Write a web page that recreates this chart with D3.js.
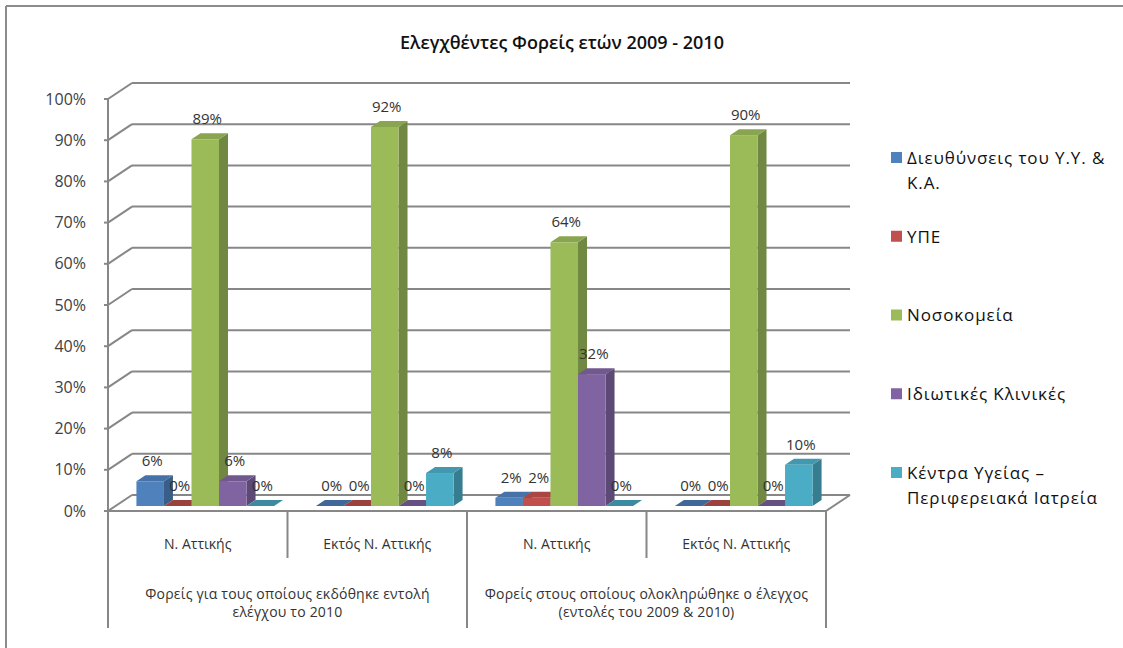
<!DOCTYPE html>
<html><head><meta charset="utf-8">
<script src="https://cdn.jsdelivr.net/npm/d3@7"></script>
<style>
body{margin:0;background:#fff}
svg{display:block}
text{font-family:"Open Sans","Noto Sans",sans-serif}
</style>
</head><body>
<svg id="c" width="1123" height="648"></svg>
<script>
// ---- data ----
const categories = ["Ν. Αττικής", "Εκτός Ν. Αττικής", "Ν. Αττικής", "Εκτός Ν. Αττικής"];
const groupLabels = [
  ["Φορείς για τους οποίους εκδόθηκε εντολή", "ελέγχου το 2010"],
  ["Φορείς στους οποίους ολοκληρώθηκε ο έλεγχος", "(εντολές του 2009 & 2010)"]
];
const seriesNames = [
  ["Διευθύνσεις του Υ.Υ. &", "Κ.Α."],
  ["ΥΠΕ"],
  ["Νοσοκομεία"],
  ["Ιδιωτικές Κλινικές"],
  ["Κέντρα Υγείας –", "Περιφερειακά Ιατρεία"]
];
const dieuthynseis = [6, 0, 2, 0];
const ype = [0, 0, 2, 0];
const nosokomeia = [89, 92, 64, 90];
const idiotikes = [6, 0, 32, 0];
const kentra = [0, 8, 0, 10];
const yTicks = [0, 10, 20, 30, 40, 50, 60, 70, 80, 90, 100];
const titleText = "Ελεγχθέντες Φορείς ετών 2009 - 2010";

const seriesValues = [dieuthynseis, ype, nosokomeia, idiotikes, kentra];
const colors = ["#4F81BD", "#C0504D", "#9BBB59", "#8064A2", "#4BACC6"];

// ---- layout ----
const svg = d3.select("#c");
const gridColor = "#878787";
const left = 108, right = 826, floorY = 511, topY = 99;
const depth = {dx: 24, dy: -16};
const barShift = {dx: 7.5, dy: -5};
const barDepth = {dx: 9, dy: -6};

// outer border (top & left)
svg.append("line").attr("x1", 6).attr("y1", 6).attr("x2", 1123).attr("y2", 6)
  .attr("stroke", "#8c8c8c").attr("stroke-width", 2);
svg.append("line").attr("x1", 6).attr("y1", 6).attr("x2", 6).attr("y2", 648)
  .attr("stroke", "#8c8c8c").attr("stroke-width", 2);

// title
svg.append("text").attr("x", 562).attr("y", 49).attr("text-anchor", "middle")
  .attr("font-size", 18).attr("font-weight", 600).attr("fill", "#111").text(titleText);

const y = d3.scaleLinear().domain([0, 100]).range([floorY, topY]);
const x0 = d3.scaleBand().domain(d3.range(categories.length)).range([left, right]);
const x1 = d3.scaleBand().domain(d3.range(seriesValues.length))
  .range([0, x0.bandwidth()]).paddingInner(0).paddingOuter(0.76);

// gridlines (back wall + side diagonal)
const grid = svg.append("g").attr("stroke", gridColor).attr("stroke-width", 2).attr("fill", "none");
yTicks.forEach(t => {
  grid.append("line").attr("x1", left + depth.dx).attr("y1", y(t) + depth.dy)
    .attr("x2", right + depth.dx).attr("y2", y(t) + depth.dy);
  grid.append("line").attr("x1", left).attr("y1", y(t))
    .attr("x2", left + depth.dx).attr("y2", y(t) + depth.dy);
  grid.append("line").attr("x1", left - 4).attr("y1", y(t)).attr("x2", left).attr("y2", y(t));
});
// floor front & right edge
grid.append("line").attr("x1", left).attr("y1", floorY).attr("x2", right).attr("y2", floorY);
grid.append("line").attr("x1", right).attr("y1", floorY).attr("x2", right + depth.dx).attr("y2", floorY + depth.dy);
// value axis line
grid.append("line").attr("x1", left).attr("y1", y(100)).attr("x2", left).attr("y2", floorY);

// category separators
const bounds = d3.range(categories.length + 1).map(i => i < categories.length ? x0(i) : right);
bounds.forEach((bx, i) => {
  grid.append("line").attr("x1", bx).attr("y1", floorY).attr("x2", bx)
    .attr("y2", i % 2 === 0 ? 628 : 558);
});

// y tick labels
svg.append("g").selectAll("text").data(yTicks).join("text")
  .attr("x", 86).attr("y", d => y(d)).attr("dy", "0.35em").attr("text-anchor", "end")
  .attr("font-size", 16).attr("fill", "#404040").text(d => d + "%");

// category labels
svg.append("g").selectAll("text").data(categories).join("text")
  .attr("x", (d, i) => x0(i) + x0.bandwidth() / 2).attr("y", 549)
  .attr("text-anchor", "middle").attr("font-size", 14).attr("fill", "#333").text(d => d);

// group labels
groupLabels.forEach((lines, g) => {
  const cx = bounds[g * 2 + 1];
  lines.forEach((ln, k) => {
    svg.append("text").attr("x", cx).attr("y", 599 + k * 18).attr("text-anchor", "middle")
      .attr("font-size", 14).attr("letter-spacing", 0.2).attr("fill", "#333").text(ln);
  });
});

// bars
const bars = [];
categories.forEach((c, i) => {
  seriesValues.forEach((vals, j) => {
    bars.push({i, j, v: vals[i]});
  });
});
const gb = svg.append("g");
bars.forEach(b => {
  const col = d3.color(colors[b.j]);
  const x = x0(b.i) + x1(b.j) + barShift.dx;
  const w = x1.bandwidth();
  const base = y(0) + barShift.dy;
  const top = y(b.v) + barShift.dy;
  const dx = barDepth.dx, dy = barDepth.dy;
  gb.append("polygon")
    .attr("points", [[x + w, top], [x + w + dx, top + dy], [x + w + dx, base + dy], [x + w, base]].join(" "))
    .attr("fill", col.darker(0.9));
  gb.append("rect").attr("x", x).attr("y", top).attr("width", w).attr("height", base - top)
    .attr("fill", col);
  gb.append("polygon")
    .attr("points", [[x, top], [x + dx, top + dy], [x + w + dx, top + dy], [x + w, top]].join(" "))
    .attr("fill", col.darker(b.v === 0 ? 0.6 : 0.35));
});

// data labels
svg.append("g").selectAll("text").data(bars).join("text")
  .attr("x", d => x0(d.i) + x1(d.j) + barShift.dx + x1.bandwidth() / 2 + 2)
  .attr("y", d => y(d.v) + barShift.dy - 15)
  .attr("text-anchor", "middle").attr("font-size", 15).attr("fill", "#333")
  .text(d => d.v + "%");

// legend
const ly = d3.scalePoint().domain(d3.range(seriesNames.length)).range([158, 473]);
const lg = svg.append("g");
seriesNames.forEach((lines, j) => {
  lg.append("rect").attr("x", 891).attr("y", ly(j) - 6).attr("width", 11).attr("height", 11)
    .attr("fill", colors[j]);
  lines.forEach((ln, k) => {
    lg.append("text").attr("x", 907).attr("y", ly(j) + k * 25).attr("dy", "0.35em")
      .attr("font-size", 17).attr("letter-spacing", 0.9).attr("fill", "#111").text(ln);
  });
});
</script>
</body></html>
